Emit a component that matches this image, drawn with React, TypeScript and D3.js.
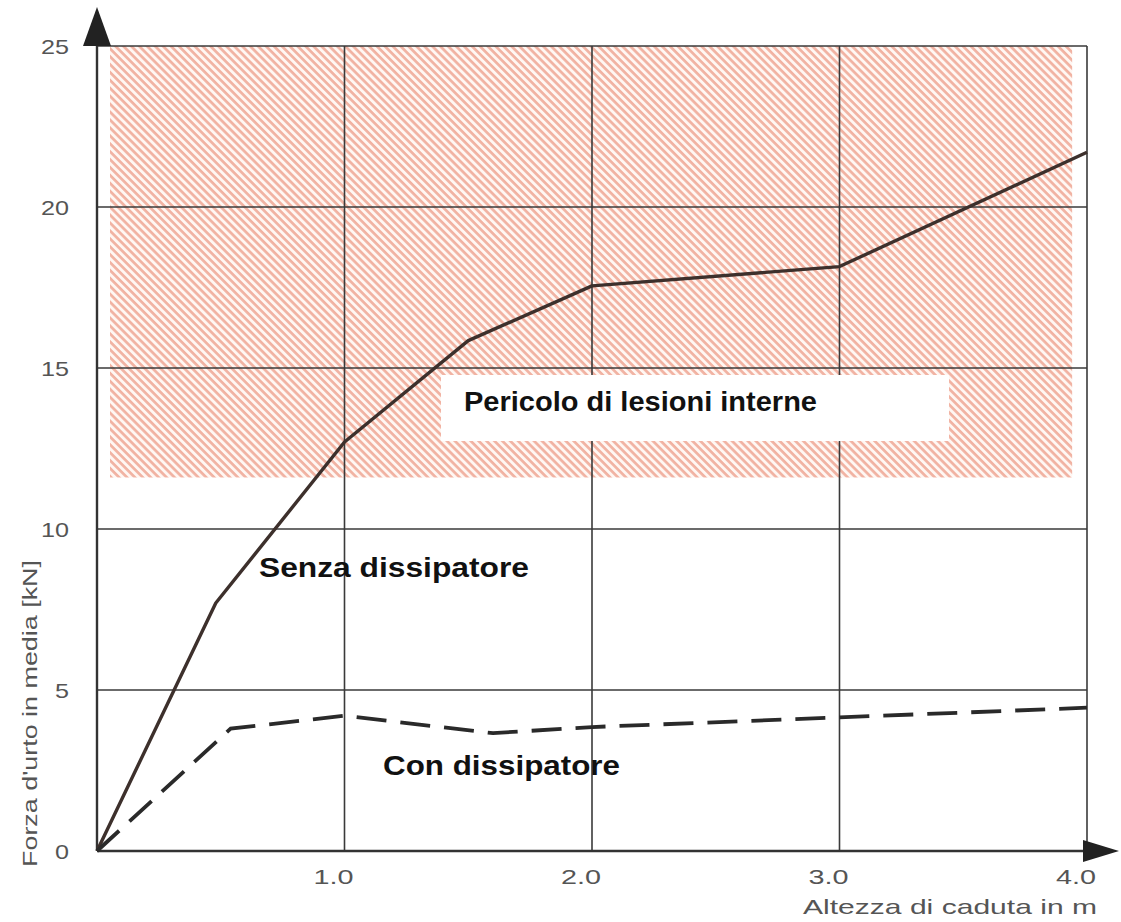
import React from "react";
import * as d3 from "d3";

const senzaX = [0, 0.48, 1.0, 1.5, 2.0, 3.0, 4.0];
const senzaY = [0, 7.7, 12.7, 15.85, 17.55, 18.15, 21.7];
const conX = [0, 0.54, 1.0, 1.6, 2.0, 3.0, 4.0];
const conY = [0, 3.8, 4.2, 3.66, 3.85, 4.15, 4.45];
const xTicks = [1.0, 2.0, 3.0, 4.0];
const yTicks = [0, 5, 10, 15, 20, 25];
const dangerFrom = 11.6;
const dangerTo = 25;

export default function App() {
  const W = 1121, H = 922;
  const x = d3.scaleLinear().domain([0, 4]).range([97, 1087]);
  const y = d3.scaleLinear().domain([0, 25]).range([851, 46]);
  const line = d3.line<[number, number]>().x(d => x(d[0])).y(d => y(d[1]));
  const senza: [number, number][] = senzaX.map((v, i) => [v, senzaY[i]]);
  const con: [number, number][] = conX.map((v, i) => [v, conY[i]]);
  const grid = "#3a3a3a";
  const bold = "'Liberation Sans', Arial, sans-serif";
  const light = "'Liberation Sans', Arial, sans-serif";
  return (
    <svg width={W} height={H} style={{ position: "absolute", left: 0, top: 0, background: "#fff" }}>
      <defs>
        <pattern id="hatch" patternUnits="userSpaceOnUse" width={5.6} height={5.6} patternTransform="rotate(45)">
          <rect width={5.6} height={5.6} fill="#fff7f3" />
          <rect width={5.6} height={2.7} fill="#f1b2a2" />
        </pattern>
      </defs>
      <rect x={x(0) + 13} y={y(dangerTo)} width={x(3.94) - x(0) - 13} height={y(dangerFrom) - y(dangerTo)} fill="url(#hatch)" />
      {yTicks.filter(t => t > 0).map(t => (
        <line key={"gy" + t} x1={x(0)} x2={x(4)} y1={y(t)} y2={y(t)} stroke={grid} strokeWidth={1.6} />
      ))}
      {xTicks.map(t => (
        <line key={"gx" + t} x1={x(t)} x2={x(t)} y1={y(0)} y2={y(25)} stroke={grid} strokeWidth={1.6} />
      ))}
      <rect x={441} y={375} width={508} height={66} fill="#fff" />
      <text x={464} y={411} fontFamily={bold} fontWeight="bold" fontSize={27} fill="#111" textLength={353} lengthAdjust="spacingAndGlyphs">Pericolo di lesioni interne</text>
      {/* axes */}
      <line x1={x(0)} x2={x(0)} y1={y(0)} y2={30} stroke="#333" strokeWidth={2.4} />
      <line x1={x(0)} x2={1095} y1={y(0)} y2={y(0)} stroke="#333" strokeWidth={2.4} />
      <path d={`M${x(0)},7 L${x(0) - 14},46 L${x(0) + 14},46 Z`} fill="#222" />
      <path d={`M1119,${y(0)} L1083,${y(0) - 11} L1083,${y(0) + 11} Z`} fill="#222" />
      <path d={line(senza) || ""} fill="none" stroke="#3d302c" strokeWidth={3.4} strokeLinejoin="round" />
      <path d={line(con) || ""} fill="none" stroke="#2a2a2a" strokeWidth={3.8} strokeDasharray="30 14" />
      <text x={259} y={577} fontFamily={bold} fontWeight="bold" fontSize={27} fill="#111" textLength={270} lengthAdjust="spacingAndGlyphs">Senza dissipatore</text>
      <text x={383} y={775} fontFamily={bold} fontWeight="bold" fontSize={27} fill="#111" textLength={237} lengthAdjust="spacingAndGlyphs">Con dissipatore</text>
      {yTicks.map(t => (
        <text key={"ty" + t} x={69} y={y(t) + 8} textAnchor="end" fontFamily={light} fontSize={21} fill="#555"
          textLength={String(t).length * 14} lengthAdjust="spacingAndGlyphs">{t}</text>
      ))}
      {xTicks.map(t => (
        <text key={"tx" + t} x={x(t) - 11} y={884} textAnchor="middle" fontFamily={light} fontSize={21} fill="#555"
          textLength={40} lengthAdjust="spacingAndGlyphs">{t.toFixed(1)}</text>
      ))}
      <text x={803} y={914} fontFamily={light} fontSize={21} fill="#555" textLength={294} lengthAdjust="spacingAndGlyphs">Altezza di caduta in m</text>
      <text transform="translate(37,867) rotate(-90)" fontFamily={light} fontSize={20} fill="#555" textLength={307} lengthAdjust="spacingAndGlyphs">Forza d'urto in media [kN]</text>
    </svg>
  );
}
